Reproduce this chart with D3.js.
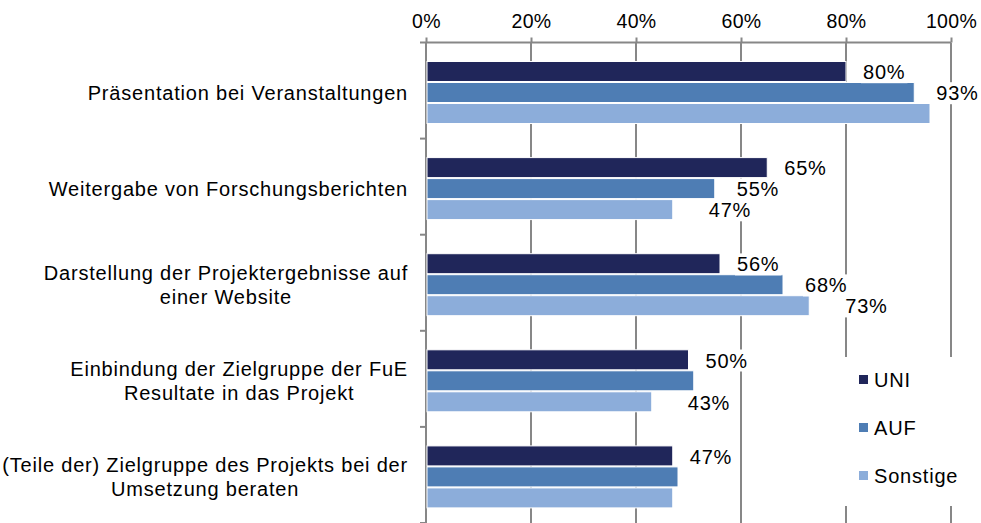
<!DOCTYPE html>
<html>
<head>
<meta charset="utf-8">
<script src="https://cdn.jsdelivr.net/npm/d3@7"></script>
<style>
  html, body { margin: 0; padding: 0; background: #fff; }
  svg { display: block; font-family: "Liberation Sans", Arial, sans-serif; }
</style>
</head>
<body>
<svg id="chart" width="981" height="523"></svg>
<script>
// Categories (line breaks mark wrapped labels)
const categories = [
  "Präsentation bei Veranstaltungen",
  "Weitergabe von Forschungsberichten",
  "Darstellung der Projektergebnisse auf\neiner Website",
  "Einbindung der Zielgruppe der FuE\nResultate in das Projekt",
  "(Teile der) Zielgruppe des Projekts bei der\nUmsetzung beraten"
];
const seriesNames = ["UNI", "AUF", "Sonstige"];
const uniValues      = [80, 65, 56, 50, 47];
const aufValues      = [93, 55, 68, 51, 48];
const sonstigeValues = [96, 47, 73, 43, 47];
// which bars carry a value label (1 = shown)
const uniLabelled      = [1, 1, 1, 1, 1];
const aufLabelled      = [1, 1, 1, 0, 0];
const sonstigeLabelled = [0, 1, 1, 1, 0];
const tickValues = [0, 20, 40, 60, 80, 100];

(function () {
const colors = ["#20265a", "#4e7db4", "#8cadda"];
const labelDx = [17, 22, 36];

const seriesData = [
  { name: seriesNames[0], values: uniValues, labelled: uniLabelled },
  { name: seriesNames[1], values: aufValues, labelled: aufLabelled },
  { name: seriesNames[2], values: sonstigeValues, labelled: sonstigeLabelled }
];

const svg = d3.select("#chart");
const W = 981, H = 523;
const plotLeft = 426, plotRight = 951, plotTop = 42.5, plotBottom = 523;
const gridColor = "#878787";

svg.append("rect").attr("width", W).attr("height", H).attr("fill", "#fff");

const x = d3.scaleLinear().domain([0, 100]).range([plotLeft, plotRight]);
const y = d3.scaleBand().domain(categories).range([plotTop, plotBottom]);
const yInner = d3.scaleBand().domain(seriesNames).range([19, 82]);

// vertical gridlines
svg.append("g").selectAll("line").data(tickValues.slice(1)).join("line")
  .attr("x1", d => x(d)).attr("x2", d => x(d))
  .attr("y1", plotTop).attr("y2", plotBottom)
  .attr("stroke", gridColor).attr("stroke-width", 2);

// top axis
const xAxis = d3.axisTop(x).tickValues(tickValues).tickSize(5).tickPadding(10)
  .tickFormat(d => d + "%");
const gx = svg.append("g").attr("transform", `translate(0,${plotTop})`).call(xAxis);
gx.select(".domain").attr("stroke", gridColor).attr("stroke-width", 2)
  .attr("d", `M${plotLeft},0H${plotRight}`);
gx.selectAll(".tick line").attr("stroke", gridColor).attr("stroke-width", 2);
gx.selectAll(".tick text").attr("fill", "#000").attr("font-size", 19.5)
  .attr("letter-spacing", "0.3px")
  .attr("font-family", "'Liberation Sans', Arial, sans-serif");

// category axis line and separator ticks
svg.append("line").attr("x1", plotLeft).attr("x2", plotLeft).attr("y1", plotTop).attr("y2", plotBottom)
  .attr("stroke", gridColor).attr("stroke-width", 2);
const sepPositions = categories.map(c => y(c)).concat([plotBottom]);
svg.append("g").selectAll("line").data(sepPositions).join("line")
  .attr("x1", plotLeft - 6).attr("x2", plotLeft).attr("y1", d => d).attr("y2", d => d)
  .attr("stroke", gridColor).attr("stroke-width", 2);

// bars
const groups = svg.append("g").selectAll("g").data(seriesData).join("g")
  .attr("fill", (d, i) => colors[i]);
groups.selectAll("rect")
  .data((s, si) => s.values.map((v, ci) => ({ v, c: categories[ci], s: s.name, si })))
  .join("rect")
  .attr("x", x(0) + 1)
  .attr("y", d => y(d.c) + yInner(d.s))
  .attr("width", d => x(d.v) - x(0) - 1)
  .attr("height", yInner.bandwidth() - 1)
  .attr("stroke", "#fff").attr("stroke-width", 1);

// value labels with white backing
const labelData = [];
seriesData.forEach((s, si) => s.values.forEach((v, ci) => {
  if (s.labelled[ci]) labelData.push({ v, c: categories[ci], s: s.name, si });
}));
const lg = svg.append("g").selectAll("g").data(labelData).join("g")
  .attr("transform", d => `translate(${x(d.v) + labelDx[d.si]},${y(d.c) + yInner(d.s) + yInner.bandwidth() / 2})`);
lg.append("rect").attr("fill", "#fff");
lg.append("text")
  .attr("font-size", 20).attr("letter-spacing", "0.8px").attr("fill", "#000")
  .attr("dy", "0.36em")
  .text(d => d.v + "%");
lg.each(function () {
  const g = d3.select(this);
  const b = g.select("text").node().getBBox();
  g.select("rect").attr("x", b.x - 2).attr("y", b.y).attr("width", b.width + 4).attr("height", b.height);
});

// category labels: block right-aligned, lines centred within the block
const labelRight = 408;
categories.forEach(c => {
  const lines = c.split("\n");
  const cy = y(c) + y.bandwidth() / 2 + 2;
  const t = svg.append("text").attr("font-size", 20).attr("letter-spacing", "0.8px")
    .attr("fill", "#000").attr("text-anchor", "middle");
  const lh = 24;
  lines.forEach((ln, i) => {
    t.append("tspan").attr("x", 0)
      .attr("y", cy + (i - (lines.length - 1) / 2) * lh)
      .attr("dy", "0.35em").text(ln);
  });
  const w = d3.max(t.selectAll("tspan").nodes(), n => n.getComputedTextLength());
  t.selectAll("tspan").attr("x", labelRight - w / 2);
});

// legend
const legend = svg.append("g");
legend.append("rect").attr("x", 836).attr("y", 357).attr("width", 142).attr("height", 149).attr("fill", "#fff");
seriesNames.forEach((n, i) => {
  const by = 387 + i * 48;
  legend.append("rect").attr("x", 859).attr("y", by - 12).attr("width", 9).attr("height", 9)
    .attr("fill", colors[i]);
  legend.append("text").attr("x", 874).attr("y", by).attr("font-size", 20)
    .attr("letter-spacing", "0.8px").attr("fill", "#000").text(n);
});
})();
</script>
</body>
</html>
